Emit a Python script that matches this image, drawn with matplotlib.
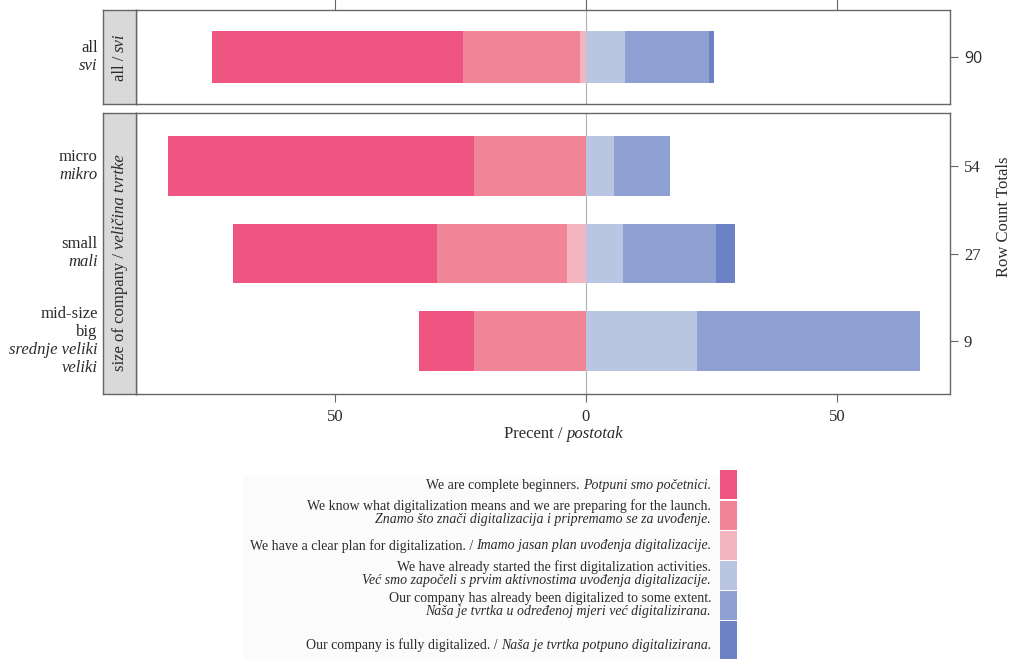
import matplotlib.pyplot as plt
import numpy as np
from matplotlib.patches import Rectangle

# ---- data (percent of row) ----
levels_en = [
    ["We are complete beginners."],
    ["We know what digitalization means and we are preparing for the launch."],
    ["We have a clear plan for digitalization. /"],
    ["We have already started the first digitalization activities."],
    ["Our company has already been digitalized to some extent."],
    ["Our company is fully digitalized. /"],
]
levels_hr = [
    "Potpuni smo početnici.",
    "Znamo što znači digitalizacija i pripremamo se za uvođenje.",
    "Imamo jasan plan uvođenja digitalizacije.",
    "Već smo započeli s prvim aktivnostima uvođenja digitalizacije.",
    "Naša je tvrtka u određenoj mjeri već digitalizirana.",
    "Naša je tvrtka potpuno digitalizirana.",
]
# True -> English and Croatian on one line
legend_one_line = [True, False, True, False, False, True]

colors = ["#EE5580", "#F18598", "#F3B6C1", "#BAC5E2", "#8FA0D2", "#6C82C4"]

all_label = ["all", "svi"]
all_values = [50.0, 23.3, 1.1, 7.8, 16.7, 1.1]
all_total = 90

size_labels_en = [["micro"], ["small"], ["mid-size", "big"]]
size_labels_hr = [["mikro"], ["mali"], ["srednje veliki", "veliki"]]
size_values = [
    [61.1, 22.2, 0.0, 5.6, 11.1, 0.0],   # micro
    [40.7, 25.9, 3.7, 7.4, 18.5, 3.7],   # small
    [11.1, 22.2, 0.0, 22.2, 44.4, 0.0],  # mid-size / big
]
size_totals = [54, 27, 9]

n_neg = 3  # first three levels go to the left of zero

# ---- figure ----
W, H = 1013, 659
plt.rcParams['font.family'] = ['Liberation Serif', 'DejaVu Serif']
fig = plt.figure(figsize=(W / 100, H / 100), dpi=100)
renderer = fig.canvas.get_renderer()
txt_col = "#2b2b2b"
frame_col = "#666666"
FS = 12
LFS = 10


def fx(x):
    return x / W


def fy(y):
    return 1 - y / H


def add_axes_px(left, top, right, bottom):
    return fig.add_axes([fx(left), fy(bottom), (right - left) / W, (bottom - top) / H])


def text_width(s, style, size):
    t = fig.text(0, 0, s, fontsize=size, style=style)
    w = t.get_window_extent(renderer).width
    t.remove()
    return w


def mixed_text(x, y, parts, size=FS, rotation=0, align="center", gap=4):
    # parts: list of (string, style); x, y in pixels from top-left
    widths = [text_width(s, st, size) for s, st in parts]
    total = sum(widths) + gap * (len(parts) - 1)
    if align == "center":
        start = -total / 2
    elif align == "right":
        start = -total
    else:
        start = 0
    pos = start
    for (s, st), w in zip(parts, widths):
        if rotation == 0:
            fig.text(fx(x + pos), fy(y), s, fontsize=size, style=st, color=txt_col,
                     ha="left", va="center")
        else:
            fig.text(fx(x), fy(y - pos), s, fontsize=size, style=st, color=txt_col,
                     ha="left", va="center", rotation=90, rotation_mode="anchor")
        pos += w + gap


def draw_panel(ax, rows, values, totals, ylim, height):
    values = np.array(values)
    neg = values[:, :n_neg]
    pos = values[:, n_neg:]
    ax.axvline(0, color="#b0b0b0", lw=0.8, zorder=0)
    # negative side: level 3 next to zero, level 1 farthest out
    left = np.zeros(len(rows))
    for k in range(n_neg - 1, -1, -1):
        ax.barh(rows, -neg[:, k], left=left, height=height, color=colors[k], lw=0)
        left = left - neg[:, k]
    left = np.zeros(len(rows))
    for k in range(pos.shape[1]):
        ax.barh(rows, pos[:, k], left=left, height=height, color=colors[n_neg + k], lw=0)
        left = left + pos[:, k]
    ax.set_xlim(-89.6, 72.5)
    ax.set_ylim(*ylim)
    ax.yaxis.tick_right()
    ax.set_yticks(rows)
    ax.set_yticklabels([str(t) for t in totals], fontsize=FS, color=txt_col)
    ax.tick_params(axis="y", direction="out", length=6, color=frame_col, pad=4)
    for sp in ax.spines.values():
        sp.set_color(frame_col)
        sp.set_linewidth(1.0)


def row_labels(ax, rows, labels_en, labels_hr):
    for r, en, hr in zip(rows, labels_en, labels_hr):
        lines = [(s, "normal") for s in en] + [(s, "italic") for s in hr]
        n = len(lines)
        for i, (s, st) in enumerate(lines):
            off = ((n - 1) / 2 - i) * 18
            ax.annotate(s, xy=(-0.047, r), xycoords=ax.get_yaxis_transform(),
                        xytext=(0, off), textcoords="offset pixels",
                        ha="right", va="center", fontsize=FS, style=st, color=txt_col)


def strip(top, bottom):
    sax = add_axes_px(103, top, 136, bottom)
    sax.add_patch(Rectangle((0, 0), 1, 1, transform=sax.transAxes, color="#d9d9d9", lw=0))
    sax.set_xticks([])
    sax.set_yticks([])
    for sp in sax.spines.values():
        sp.set_color(frame_col)
        sp.set_linewidth(1.0)
    return sax


# top panel: all respondents
ax_all = add_axes_px(136, 10, 950, 104)
draw_panel(ax_all, [1], [all_values], [all_total], (0.46, 1.54), 0.59)
ax_all.set_xticks([-50, 0, 50])
ax_all.tick_params(axis="x", bottom=False, labelbottom=False, top=True, labeltop=False,
                   direction="out", length=8, color=frame_col)
row_labels(ax_all, [1], [[all_label[0]]], [[all_label[1]]])
ax_all.get_yticklabels()[0].set_family("Open Sans")
ax_all.get_yticklabels()[0].set_fontsize(11.5)
strip(10, 104)
mixed_text(120, 57, [("all /", "normal"), ("svi", "italic")], rotation=90)

# bottom panel: by company size
rows = [3, 2, 1]
ax_size = add_axes_px(136, 113, 950, 394)
draw_panel(ax_size, rows, size_values, size_totals, (0.4, 3.6), 0.68)
ax_size.set_xticks([-50, 0, 50])
ax_size.set_xticklabels(["50", "0", "50"], fontsize=FS, color=txt_col)
ax_size.tick_params(axis="x", direction="out", length=6, color=frame_col, pad=5)
row_labels(ax_size, rows, size_labels_en, size_labels_hr)
strip(113, 394)
mixed_text(120, 263, [("size of company /", "normal"), ("veličina tvrtke", "italic")], rotation=90)

# axis titles
mixed_text(564, 434, [("Precent /", "normal"), ("postotak", "italic")])
fig.text(fx(1004), fy(217), "Row Count Totals", rotation=90, ha="center", va="center",
         fontsize=FS, color=txt_col)

# legend
fig.patches.append(Rectangle((fx(243), fy(659)), fx(720 - 243), fy(476) - fy(659),
                             transform=fig.transFigure, color="#fbfbfb", lw=0, zorder=0))
box_tops = [470, 501, 531, 561, 591, 621]
box_h = 29
for k, c in enumerate(colors):
    h = box_h if k < len(colors) - 1 else 40
    fig.patches.append(Rectangle((fx(720), fy(box_tops[k] + h)), 17 / W, h / H,
                                 transform=fig.transFigure, color=c, lw=0))
text_y = [485, 513, 546, 574, 605, 645]
for k in range(len(colors)):
    if legend_one_line[k]:
        mixed_text(711, text_y[k], [(levels_en[k][0], "normal"), (levels_hr[k], "italic")],
                   size=LFS, align="right", gap=3)
    else:
        mixed_text(711, text_y[k] - 6.5, [(levels_en[k][0], "normal")], size=LFS, align="right")
        mixed_text(711, text_y[k] + 6.5, [(levels_hr[k], "italic")], size=LFS, align="right")

fig.savefig("out.png", dpi=100)
